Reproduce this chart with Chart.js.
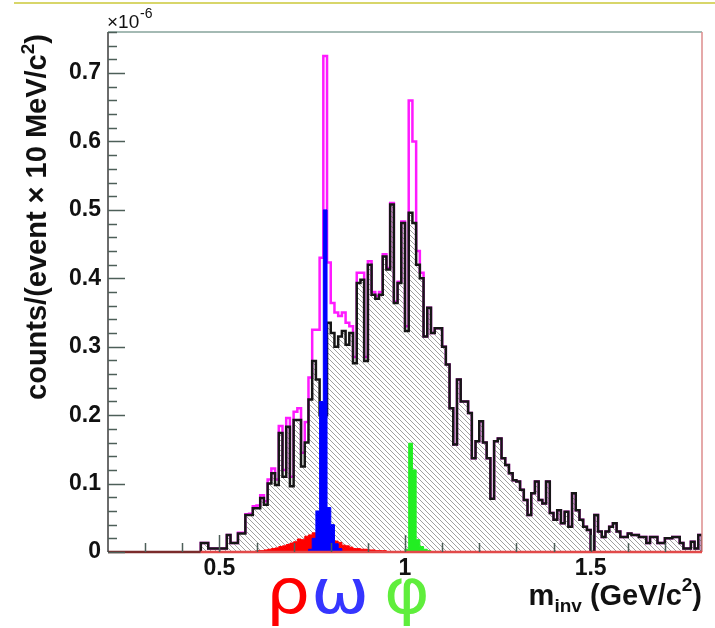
<!DOCTYPE html>
<html>
<head>
<meta charset="utf-8">
<script src="https://cdn.jsdelivr.net/npm/chart.js@4.4.1/dist/chart.umd.min.js"></script>
<style>
  html, body { margin: 0; padding: 0; background: #fff; }
</style>
</head>
<body>
<canvas id="invMass" width="715" height="628"></canvas>
<script>
// bins of 10 MeV/c^2, values in units of 1e-6 counts/event
const binWidth = 0.01;
const firstEdge = 0.45;

// hatched (grey) histogram, bins 0.45 ... 1.79
const hatchedCounts = [
  0.013, 0.013, 0.005, 0.005, 0.005, 0.005, 0.005, 0.025, 0.013, 0.013,
  0.027, 0.027, 0.054, 0.054, 0.064, 0.064, 0.079, 0.069, 0.100, 0.115,
  0.098, 0.174, 0.110, 0.183, 0.096, 0.193, 0.193, 0.125, 0.160, 0.223,
  0.279, 0.252, 0.200, 0.200, 0.335, 0.320, 0.300, 0.315, 0.323, 0.303,
  0.320, 0.276, 0.393, 0.398, 0.279, 0.420, 0.376, 0.370, 0.376, 0.432,
  0.413, 0.508, 0.364, 0.393, 0.481, 0.323, 0.496, 0.481, 0.420, 0.400,
  0.315, 0.357, 0.320, 0.327, 0.327, 0.300, 0.274, 0.210, 0.157, 0.252,
  0.220, 0.220, 0.203, 0.137, 0.162, 0.191, 0.160, 0.137, 0.078, 0.162,
  0.166, 0.137, 0.127, 0.115, 0.105, 0.103, 0.091, 0.076, 0.054, 0.086,
  0.103, 0.076, 0.071, 0.103, 0.057, 0.047, 0.061, 0.042, 0.059, 0.037,
  0.086, 0.061, 0.047, 0.037, 0.032, 0.000, 0.054, 0.030, 0.022, 0.030,
  0.037, 0.042, 0.030, 0.022, 0.022, 0.027, 0.025, 0.025, 0.022, 0.022,
  0.013, 0.022, 0.022, 0.013, 0.013, 0.020, 0.020, 0.022, 0.022, 0.013,
  0.005, 0.005, 0.015, 0.005, 0.025
];

// magenta (sum) histogram, same bins
const sumCounts = [
  0.013, 0.013, 0.005, 0.005, 0.005, 0.005, 0.005, 0.025, 0.013, 0.013,
  0.028, 0.028, 0.055, 0.056, 0.067, 0.068, 0.083, 0.074, 0.106, 0.122,
  0.106, 0.184, 0.120, 0.196, 0.110, 0.205, 0.210, 0.145, 0.190, 0.255,
  0.325, 0.325, 0.430, 0.725, 0.423, 0.364, 0.350, 0.345, 0.350, 0.335,
  0.330, 0.285, 0.408, 0.408, 0.285, 0.425, 0.380, 0.374, 0.380, 0.435,
  0.415, 0.510, 0.366, 0.395, 0.483, 0.330, 0.660, 0.600, 0.440, 0.408,
  0.315, 0.357, 0.320, 0.327, 0.327, 0.300, 0.274, 0.210, 0.157, 0.252,
  0.220, 0.220, 0.203, 0.137, 0.162, 0.191, 0.160, 0.137, 0.078, 0.162,
  0.166, 0.137, 0.127, 0.115, 0.105, 0.103, 0.091, 0.076, 0.054, 0.086,
  0.103, 0.076, 0.071, 0.103, 0.057, 0.047, 0.061, 0.042, 0.059, 0.037,
  0.086, 0.061, 0.047, 0.037, 0.032, 0.000, 0.054, 0.030, 0.022, 0.030,
  0.037, 0.042, 0.030, 0.022, 0.022, 0.027, 0.025, 0.025, 0.022, 0.022,
  0.013, 0.022, 0.022, 0.013, 0.013, 0.020, 0.020, 0.022, 0.022, 0.013,
  0.005, 0.005, 0.015, 0.005, 0.025
];

const rhoStart = 0.60;
const rhoCounts = [
  0.002, 0.002, 0.003, 0.004, 0.005, 0.006, 0.008, 0.009, 0.011, 0.013,
  0.015, 0.019, 0.018, 0.023, 0.025, 0.028, 0.025, 0.030, 0.027, 0.023,
  0.021, 0.016, 0.014, 0.010, 0.009, 0.007, 0.005, 0.005, 0.004, 0.004,
  0.003, 0.003, 0.002, 0.002, 0.002
];

const omegaStart = 0.74;
const omegaCounts = [0.004, 0.020, 0.060, 0.220, 0.500, 0.065, 0.040, 0.012, 0.005];

const phiStart = 1.00;
const phiCounts = [0.004, 0.159, 0.120, 0.018, 0.008, 0.004, 0.002];

const xTickLabels = [0.5, 1, 1.5];
const yTickLabels = [0, 0.1, 0.2, 0.3, 0.4, 0.5, 0.6, 0.7];

const fontFamily = "'Liberation Sans', Arial, Helvetica, sans-serif";

// turn bin contents into step points (lower edges), closed to zero at both ends
function histPoints(start, counts) {
  const pts = [{ x: start, y: 0 }];
  counts.forEach((c, i) => pts.push({ x: +(start + i * binWidth).toFixed(3), y: c }));
  pts.push({ x: +(start + counts.length * binWidth).toFixed(3), y: 0 });
  return pts;
}

// grey hatching like ROOT fill style
function makeHatch() {
  const c = document.createElement('canvas');
  c.width = 5; c.height = 5;
  const g = c.getContext('2d');
  g.strokeStyle = '#a0a0a0';
  g.lineWidth = 1;
  g.beginPath();
  g.moveTo(0, 0); g.lineTo(5, 5);
  g.moveTo(-1, 4); g.lineTo(1, 6);
  g.moveTo(4, -1); g.lineTo(6, 1);
  g.stroke();
  return g.createPattern(c, 'repeat');
}

const rootStyle = {
  id: 'rootStyle',
  afterDraw(chart) {
    const { ctx, chartArea: a, scales: { x, y } } = chart;
    ctx.save();

    // yellow rule at the very top
    ctx.strokeStyle = '#d8d66a';
    ctx.lineWidth = 2;
    ctx.beginPath(); ctx.moveTo(14, 3); ctx.lineTo(715, 3); ctx.stroke();

    // frame
    ctx.lineWidth = 1.5;
    ctx.strokeStyle = '#86a39b';
    ctx.beginPath(); ctx.moveTo(a.left, a.top); ctx.lineTo(a.right, a.top); ctx.stroke();
    ctx.strokeStyle = '#dd8c8c';
    ctx.beginPath(); ctx.moveTo(a.right, a.top); ctx.lineTo(a.right, a.bottom); ctx.stroke();
    ctx.lineWidth = 2.5;
    const xs = x.getPixelForValue(firstEdge);
    ctx.strokeStyle = '#7a2b2b';
    ctx.beginPath(); ctx.moveTo(a.left, a.bottom); ctx.lineTo(xs, a.bottom); ctx.stroke();
    ctx.strokeStyle = '#e24a4a';
    ctx.beginPath(); ctx.moveTo(xs, a.bottom); ctx.lineTo(a.right, a.bottom); ctx.stroke();
    ctx.lineWidth = 1.5;
    ctx.strokeStyle = '#3b3b3b';
    ctx.beginPath(); ctx.moveTo(a.left, a.top); ctx.lineTo(a.left, a.bottom); ctx.stroke();

    // ticks pointing into the frame
    ctx.strokeStyle = '#4d5f58';
    ctx.lineWidth = 1.5;
    for (let k = 0; k <= 38; k++) {
      const v = k * 0.02;
      const py = Math.round(y.getPixelForValue(v)) + 0.5;
      const len = k % 5 === 0 ? 17 : 9;
      ctx.beginPath(); ctx.moveTo(a.left, py); ctx.lineTo(a.left + len, py); ctx.stroke();
    }
    for (let k = 3; k <= 17; k++) {
      const v = k * 0.1;
      const px = Math.round(x.getPixelForValue(v)) + 0.5;
      const len = k % 5 === 0 ? 17 : 9;
      ctx.beginPath(); ctx.moveTo(px, a.bottom); ctx.lineTo(px, a.bottom - len); ctx.stroke();
    }

    ctx.fillStyle = '#111';
    ctx.textBaseline = 'alphabetic';

    // exponent label
    ctx.textAlign = 'left';
    ctx.font = '19px ' + fontFamily;
    ctx.fillText('\u00d710', 107, 28);
    ctx.font = '14px ' + fontFamily;
    ctx.fillText('-6', 140, 18);

    // y axis title
    ctx.save();
    ctx.translate(46, 217);
    ctx.rotate(-Math.PI / 2);
    const big = 'bold 29px ' + fontFamily;
    const small = 'bold 19px ' + fontFamily;
    const yParts = [['counts/(event \u00d7 10 MeV/c', big, 0], ['2', small, -12], [')', big, 0]];
    let total = 0;
    yParts.forEach(p => { ctx.font = p[1]; total += ctx.measureText(p[0]).width; });
    let cx = -total / 2;
    yParts.forEach(p => { ctx.font = p[1]; ctx.fillText(p[0], cx, p[2]); cx += ctx.measureText(p[0]).width; });
    ctx.restore();

    // x axis title
    const xParts = [['m', big, 605], ['inv', small, 612], [' (GeV/c', big, 605], ['2', small, 591], [')', big, 605]];
    total = 0;
    xParts.forEach(p => { ctx.font = p[1]; total += ctx.measureText(p[0]).width; });
    cx = a.right - total;
    xParts.forEach(p => { ctx.font = p[1]; ctx.fillText(p[0], cx, p[2]); cx += ctx.measureText(p[0]).width; });

    // meson labels, a bit wider than the font
    ctx.save();
    ctx.translate(0, 613);
    ctx.scale(1.12, 1);
    ctx.font = "62px 'DejaVu Sans', sans-serif";
    ctx.fillStyle = '#ff0000';
    ctx.fillText('\u03c1', 266 / 1.12, 0);
    ctx.fillStyle = '#3535ff';
    ctx.fillText('\u03c9', 311 / 1.12, 0);
    ctx.fillStyle = '#5fee3c';
    ctx.fillText('\u03c6', 384 / 1.12, 0);
    ctx.restore();

    ctx.restore();
  }
};

const stepped = { stepped: 'before', pointRadius: 0, tension: 0 };

new Chart(document.getElementById('invMass'), {
  type: 'line',
  data: {
    datasets: [
      Object.assign({ label: 'phi', data: histPoints(phiStart, phiCounts), borderColor: '#22ee22',
        backgroundColor: '#22ee22', borderWidth: 1, fill: 'origin', order: 1 }, stepped),
      Object.assign({ label: 'omega', data: histPoints(omegaStart, omegaCounts), borderColor: '#0000ff',
        backgroundColor: '#0000ff', borderWidth: 1, fill: 'origin', order: 2 }, stepped),
      Object.assign({ label: 'rho', data: histPoints(rhoStart, rhoCounts), borderColor: '#ff0000',
        backgroundColor: '#ff0000', borderWidth: 1, fill: 'origin', order: 3 }, stepped),
      Object.assign({ label: 'hatched', data: histPoints(firstEdge, hatchedCounts), borderColor: '#161616',
        backgroundColor: makeHatch(), borderWidth: 2.5, fill: 'origin', order: 4 }, stepped),
      Object.assign({ label: 'sum', data: histPoints(firstEdge, sumCounts), borderColor: '#ff1aff',
        borderWidth: 2.5, fill: false, order: 5 }, stepped)
    ]
  },
  options: {
    responsive: false,
    animation: false,
    layout: { padding: { top: 32, right: 13, left: 0, bottom: 0 } },
    plugins: { legend: { display: false }, tooltip: { enabled: false } },
    scales: {
      x: {
        type: 'linear', min: 0.2, max: 1.8,
        grid: { display: false, drawTicks: false }, border: { display: false },
        afterBuildTicks: s => { s.ticks = xTickLabels.map(v => ({ value: v })); },
        afterFit: s => { s.height = 76; },
        ticks: { font: { family: fontFamily, size: 23, weight: 'bold' }, color: '#111', padding: 3,
          maxRotation: 0, autoSkip: false, callback: v => String(v) }
      },
      y: {
        min: 0, max: 0.76,
        grid: { display: false, drawTicks: false }, border: { display: false },
        afterBuildTicks: s => { s.ticks = yTickLabels.map(v => ({ value: v })); },
        afterFit: s => { s.width = 108; },
        ticks: { font: { family: fontFamily, size: 23, weight: 'bold' }, color: '#111', padding: 7,
          callback: v => String(v) }
      }
    }
  },
  plugins: [rootStyle]
});
</script>
</body>
</html>
